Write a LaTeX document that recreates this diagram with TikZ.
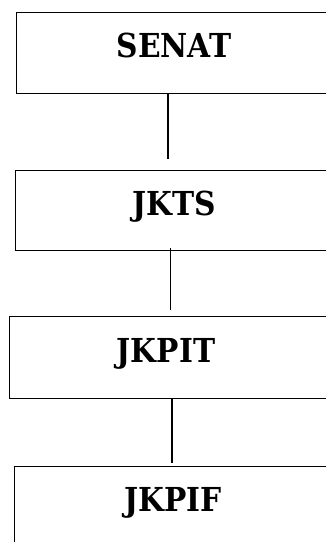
\documentclass[tikz,border=0pt]{standalone}
\usepackage{fontspec}
\setmainfont{DejaVu Serif Condensed}
\begin{document}
\begin{tikzpicture}[x=1pt,y=-1pt,
  box/.style={draw, line width=1.3pt, rectangle, inner sep=0pt, anchor=north west, minimum width=330pt},
  lbl/.style={inner sep=0pt, anchor=base, font=\fontsize{33}{40}\selectfont\bfseries},
  conn/.style={line width=1.2pt}]
\useasboundingbox (0,0) rectangle (326,542);
\clip (0,0) rectangle (326,542);
\node[box, minimum height=81pt] (senat) at (16,12) {};
\node[box, minimum height=80pt] (jkts) at (15,170) {};
\node[box, minimum height=82pt] (jkpit) at (9,316) {};
\node[box, minimum height=100pt] (jkpif) at (14,466) {};
\node[lbl] (tsenat) at (174,57) {SENAT};
\node[lbl] (tjkts) at (174,215) {JKTS};
\node[lbl] (tjkpit) at (166,362) {JKPIT};
\node[lbl] (tjkpif) at (173,511) {JKPIF};
\coordinate (e1) at (168,159);
\coordinate (e2) at (170.5,310);
\coordinate (e3) at (172,463);
\draw[conn] (senat.south -| e1) -- (e1);
\draw[conn] ([yshift=3pt]jkts.south -| e2) -- (e2);
\draw[conn] (jkpit.south -| e3) -- (e3);
\end{tikzpicture}
\end{document}
